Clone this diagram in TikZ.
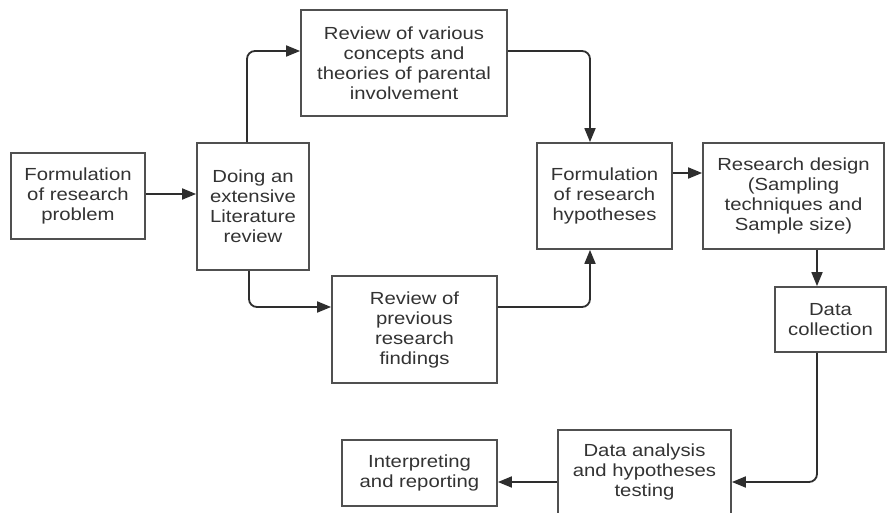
\documentclass[tikz,border=0pt]{standalone}
\usepackage{fontspec}
\setmainfont{Liberation Sans}[FakeStretch=1.16]
\usetikzlibrary{arrows.meta}
\definecolor{boxline}{HTML}{505050}
\definecolor{txt}{HTML}{333333}
\definecolor{wire}{HTML}{2E2E2E}
\tikzset{
  stepbox/.style={draw=boxline, line width=1.8pt, fill=white, inner sep=0pt,
    align=center, text=txt, font=\fontsize{17.5}{20}\selectfont},
  flow/.style={draw=wire, line width=1.8pt, rounded corners=8pt,
    -{Triangle[length=14pt,width=11pt]}},
}
\newcommand{\boxat}[6]{% name, left, top, right, bottom, text
  \node[stepbox, minimum width={#4-#2}, minimum height={#5-#3}]
    (#1) at ({(#2+#4)/2},{(#3+#5)/2}) {#6};}
\begin{document}
\begin{tikzpicture}[x=1pt,y=-1pt]
\useasboundingbox (0,0) rectangle (888,513);
\clip (0,0) rectangle (888,513);
\fill[white] (0,0) rectangle (888,513);

\boxat{prob}{11}{153}{145}{239}{Formulation\\of research\\problem}
\boxat{lit}{197}{143}{309}{270}{Doing an\\extensive\\Literature\\review}
\boxat{concepts}{301}{10}{507}{116}{Review of various\\concepts and\\theories of parental\\involvement}
\boxat{hyp}{537}{143}{672}{249}{Formulation\\of research\\hypotheses}
\boxat{design}{703}{143}{884}{249}{Research design\\(Sampling\\techniques and\\Sample size)}
\boxat{prev}{332}{276}{497}{383}{Review of\\previous\\research\\findings}
\boxat{collect}{775}{287}{886}{352}{Data\\collection}
\boxat{analysis}{558}{430}{731}{514}{Data analysis\\and hypotheses\\testing}
\boxat{report}{342}{440}{497}{506}{Interpreting\\and reporting}

% routing columns and rows of the connectors
\coordinate (colA) at (247,0);
\coordinate (colB) at (249,0);
\coordinate (colH) at (590,0);
\coordinate (colD) at (817,0);
\coordinate (rowTop) at (0,51);
\coordinate (rowMid) at (0,307);
\coordinate (rowHyp) at (0,173);
\coordinate (rowLow) at (0,482);
\coordinate (rowProb) at (0,194);

\draw[flow] (prob.east |- rowProb) -- (lit.west |- rowProb);
\draw[flow] (lit.north -| colA) |- (concepts.west |- rowTop);
\draw[flow] (lit.south -| colB) |- (prev.west |- rowMid);
\draw[flow] (concepts.east |- rowTop) -| (hyp.north -| colH);
\draw[flow] (prev.east |- rowMid) -| (hyp.south -| colH);
\draw[flow] (hyp.east |- rowHyp) -- (design.west |- rowHyp);
\draw[flow] (design.south -| colD) -- (collect.north -| colD);
\draw[flow] (collect.south -| colD) |- (analysis.east |- rowLow);
\draw[flow] (analysis.west |- rowLow) -- (report.east |- rowLow);
\end{tikzpicture}
\end{document}
